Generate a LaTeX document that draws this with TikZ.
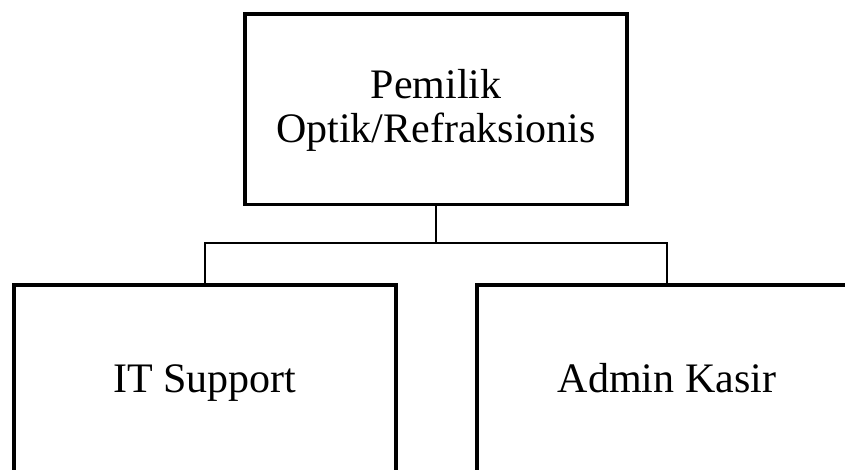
\documentclass[tikz,border=0pt]{standalone}
\usepackage{fontspec}
\setmainfont{Liberation Serif}
\begin{document}
\begin{tikzpicture}[x=1pt,y=-1pt,
  orgbox/.style={draw=black, line width=3.5pt, fill=white, inner sep=0pt, align=center,
    font=\fontsize{42}{44}\selectfont},
  orgtext/.style={inner sep=0pt, align=center, font=\fontsize{42}{44}\selectfont},
  link/.style={draw=black, line width=2.5pt}]
\useasboundingbox (0,0) rectangle (845,470);
\clip (0,0) rectangle (845,470);
\node[orgbox, minimum width=382pt, minimum height=190.5pt] (top) at (436,109.25) {};
\node[orgtext, anchor=base] (toptext1) at (436,99) {Pemilik};
\node[orgtext, anchor=base] (toptext2) at (436,143) {Optik/Refraksionis};
\node[orgbox, minimum width=382pt, minimum height=194pt, text height=28pt, text depth=8pt] (left) at (205,382) {IT Support};
\node[orgbox, minimum width=380pt, minimum height=194pt, text height=28pt, text depth=8pt] (right) at (667,382) {Admin Kasir};
\coordinate (j) at (436,243);
\draw[link] (top.south) -- (j);
\draw[link] (j) -| (left.north);
\draw[link] (j) -| (right.north);
\end{tikzpicture}
\end{document}
